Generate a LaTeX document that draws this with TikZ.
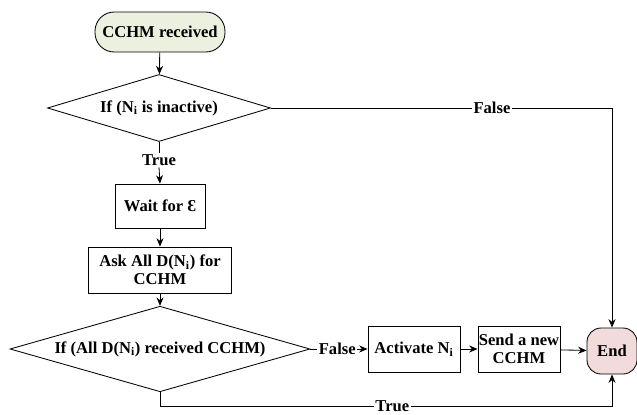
\documentclass[tikz,border=0pt]{standalone}
\usepackage{fontspec}
\setmainfont{Liberation Serif}
\usepackage{xcolor}
\usepackage{tikz}
\usetikzlibrary{shapes.geometric,arrows.meta}
\definecolor{FCGreen}{HTML}{EBF1DE}
\definecolor{FCPink}{HTML}{F2DCDB}
\definecolor{FCLine}{HTML}{000000}
\begin{document}
\begin{tikzpicture}[x=1cm,y=1cm,
  font=\fontsize{11.8}{12.8}\selectfont\bfseries,
  line width=0.6pt,
  >={Stealth[length=6pt,width=5pt]},
  term/.style={draw=FCLine,rounded corners=0.48cm,inner sep=0pt,align=center},
  proc/.style={draw=FCLine,inner sep=0pt,align=center},
  cond/.style={draw=FCLine,diamond,aspect=3,inner sep=0pt,align=center},
  lbl/.style={fill=white,inner sep=1pt}]
\path[use as bounding box] (0,0) rectangle (15.925,10.35);
\node[term,fill=FCGreen,minimum width=3.25cm,minimum height=1.0cm] (start) at (4.00,9.55) {CCHM received};
\node[cond,minimum width=5.575cm,minimum height=1.675cm] (d1) at (3.975,7.65) {If (N\textsubscript{i} is inactive)};
\node[lbl] (t1) at (3.975,6.35) {True};
\node[proc,minimum width=2.25cm,minimum height=1.1cm] (wait) at (4.00,5.20) {Wait for Ɛ};
\node[proc,minimum width=3.575cm,minimum height=1.15cm] (ask) at (4.00,3.60) {Ask All D(N\textsubscript{i}) for\\CCHM};
\node[cond,minimum width=7.5cm,minimum height=1.65cm] (d2) at (4.00,1.625) {If (All D(N\textsubscript{i}) received CCHM)};
\node[proc,minimum width=2.3cm,minimum height=1.15cm] (act) at (10.35,1.625) {Activate N\textsubscript{i}};
\node[proc,minimum width=2.05cm,minimum height=1.15cm] (send) at (12.975,1.625) {Send a new\\CCHM};
\node[term,fill=FCPink,minimum width=1.25cm,minimum height=1.15cm,rounded corners=0.35cm] (end) at (15.30,1.575) {End};
\coordinate (bot) at (15.30,0.20);
\draw[->] (start) -- (d1);
\draw (d1.south) -- (t1.north);
\draw[->] (t1.south) -- (wait.north);
\draw[->] (wait) -- (ask);
\draw[->] (ask) -- (d2);
\draw[->] (d1.east) -| node[lbl,pos=0.324] (f1) {False} (end.north);
\draw[->] (d2.east) -- node[lbl,pos=0.47] (f2) {False} (act.west);
\draw[->] (act) -- (send);
\draw[->] (send) -- (end);
\draw[->] (d2.south) |- node[lbl,pos=0.757] (t2) {True} (bot) -- (end.south);
\end{tikzpicture}
\end{document}
